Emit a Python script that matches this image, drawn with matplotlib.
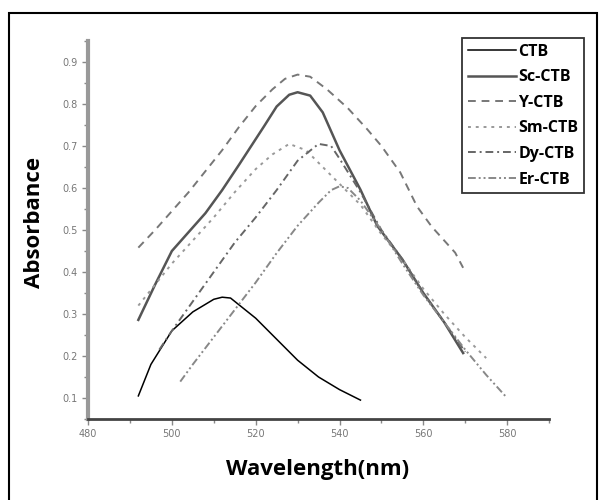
import numpy as np
import matplotlib
matplotlib.use("Agg")
import matplotlib.pyplot as plt
from matplotlib.patches import Rectangle

# absorbance spectra (wavelength in nm)
ctb_x = [492, 495, 500, 505, 510, 512, 514, 520, 525, 530, 535, 540, 545]
ctb_y = [0.105, 0.18, 0.26, 0.305, 0.335, 0.34, 0.338, 0.29, 0.24, 0.19, 0.15, 0.12, 0.095]

sc_x = [492, 496, 500, 504, 508, 512, 516, 522, 525, 528, 530, 533, 536, 540, 545, 549, 555, 560, 565, 569.5]
sc_y = [0.286, 0.37, 0.45, 0.495, 0.54, 0.595, 0.655, 0.747, 0.794, 0.822, 0.828, 0.82, 0.78, 0.69, 0.596, 0.51, 0.43, 0.35, 0.28, 0.207]

y_x = [492, 496, 500, 504, 508, 512, 516, 520, 524, 527, 530, 533, 537, 542, 546.6, 550, 554.5, 558.5, 562, 567.6, 569.5]
y_y = [0.458, 0.50, 0.545, 0.59, 0.64, 0.69, 0.745, 0.795, 0.835, 0.86, 0.87, 0.865, 0.835, 0.79, 0.74, 0.70, 0.637, 0.556, 0.508, 0.446, 0.41]

sm_x = [492, 496, 500, 505, 510, 515, 520, 524, 528, 532, 536, 540, 545, 550, 555, 560, 565, 570, 575]
sm_y = [0.32, 0.37, 0.42, 0.475, 0.53, 0.59, 0.645, 0.68, 0.705, 0.69, 0.65, 0.61, 0.56, 0.49, 0.43, 0.36, 0.30, 0.245, 0.195]

dy_x = [497, 500, 505, 510, 515, 520, 525, 530, 535, 538, 540, 545, 550, 555, 560, 565, 570]
dy_y = [0.215, 0.26, 0.33, 0.40, 0.47, 0.53, 0.595, 0.665, 0.705, 0.70, 0.67, 0.59, 0.50, 0.43, 0.35, 0.28, 0.21]

er_x = [502, 505, 510, 515, 520, 525, 530, 535, 538, 540, 542, 545, 550, 555, 560, 565, 570, 575, 580]
er_y = [0.139, 0.18, 0.245, 0.31, 0.375, 0.445, 0.51, 0.565, 0.595, 0.604, 0.60, 0.57, 0.50, 0.42, 0.345, 0.28, 0.215, 0.155, 0.1]

fig = plt.figure(figsize=(5.99, 5.0), dpi=100)
ax = fig.add_axes([0.147, 0.162, 0.7696, 0.756])

ax.plot(ctb_x, ctb_y, color='black', lw=1.1, label='CTB')
ax.plot(sc_x, sc_y, color='#555555', lw=1.8, label='Sc-CTB')
ax.plot(y_x, y_y, color='#777777', lw=1.4, dashes=(4, 3), label='Y-CTB')
ax.plot(sm_x, sm_y, color='#999999', lw=1.4, dashes=(1.5, 2.5), label='Sm-CTB')
ax.plot(dy_x, dy_y, color='#666666', lw=1.4, dashes=(4, 2, 1, 2), label='Dy-CTB')
ax.plot(er_x, er_y, color='#888888', lw=1.4, dashes=(4, 1.5, 1, 1.5, 1, 1.5), label='Er-CTB')

ax.set_xlim(480, 590)
ax.set_ylim(0.05, 0.95)
ax.set_xticks([480, 500, 520, 540, 560, 580])
ax.set_xticks(np.arange(490, 591, 20), minor=True)
ax.set_yticks([0.1, 0.2, 0.3, 0.4, 0.5, 0.6, 0.7, 0.8, 0.9])
ax.set_yticks(np.arange(0.05, 0.96, 0.1), minor=True)

for s in ['top', 'right']:
    ax.spines[s].set_visible(False)
ax.spines['left'].set_color('#999999')
ax.spines['left'].set_linewidth(3)
ax.spines['bottom'].set_color('#444444')
ax.spines['bottom'].set_linewidth(2)

ax.tick_params(which='both', direction='out', colors='#888888', labelcolor='#777777',
               labelsize=7)
ax.tick_params(which='major', length=4, width=1)
ax.tick_params(which='minor', length=3, width=1)

fig.text(0.058, 0.555, 'Absorbance', rotation=90, ha='center', va='center',
         fontsize=16, fontweight='bold', family='Open Sans')
fig.text(0.53, 0.06, 'Wavelength(nm)', ha='center', va='center',
         fontsize=16, fontweight='bold', family='Open Sans')

leg = ax.legend(loc='upper right', bbox_to_anchor=(0.975, 0.924),
                bbox_transform=fig.transFigure, frameon=True, fancybox=False,
                edgecolor='black', handlelength=3.0, handletextpad=0.15,
                labelspacing=0.6, borderpad=0.35, borderaxespad=0,
                prop={'family': 'Open Sans', 'weight': 'bold', 'size': 11.5})
leg.get_frame().set_linewidth(1.3)

# outer frame of the picture
fig.patches.append(Rectangle((9 / 599, -0.1), 588 / 599, 1.1 - 13 / 500,
                             transform=fig.transFigure, fill=False,
                             edgecolor='black', lw=1.5))

fig.savefig('out.png', dpi=100)
